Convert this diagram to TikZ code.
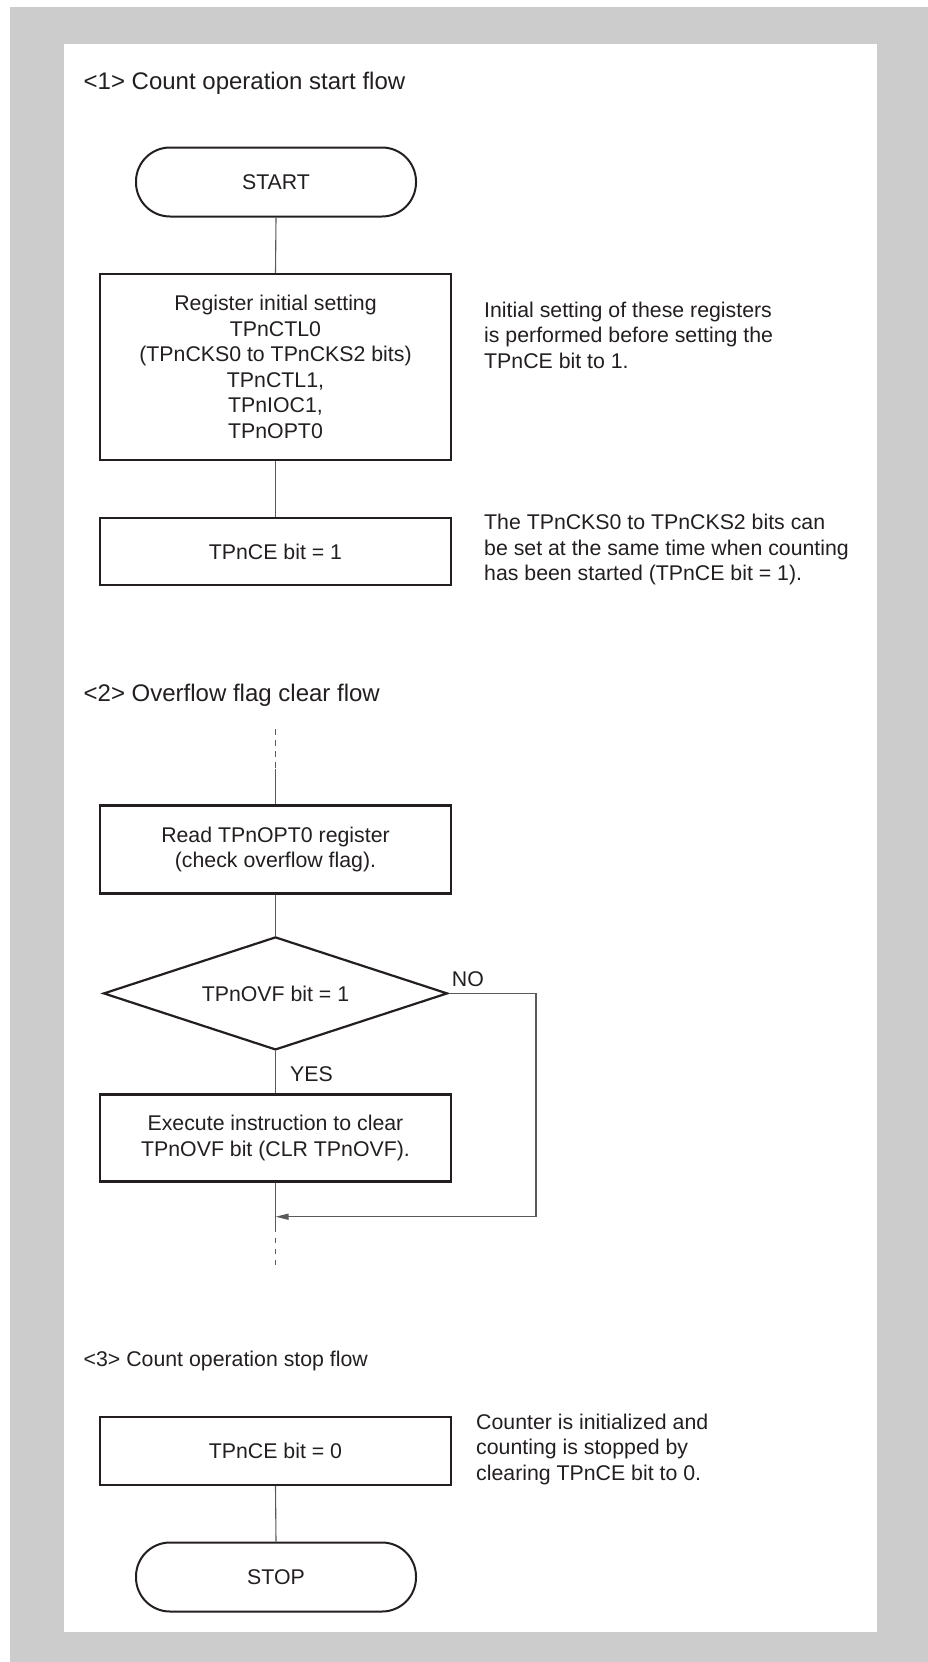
\documentclass[tikz,border=0pt]{standalone}
\usepackage{fontspec}
\setmainfont{Liberation Sans}
\usetikzlibrary{shapes.geometric,arrows.meta}
\definecolor{bggray}{HTML}{CCCCCC}
\definecolor{ink}{HTML}{231F20}
\definecolor{linegray}{HTML}{5A5A5A}
\tikzset{
  body/.style={font=\fontsize{21.3}{25.5}\selectfont, text=ink},
  titletext/.style={font=\fontsize{24}{28}\selectfont, text=ink, anchor=base west, inner sep=0pt},
  smalltitle/.style={font=\fontsize{21.3}{25.5}\selectfont, text=ink, anchor=base west, inner sep=0pt},
  procbox/.style={body, draw=ink, line width=2.2pt, minimum width=351pt, align=center, inner sep=0pt},
  termbox/.style={body, draw=ink, line width=2pt, rounded corners=34pt, minimum width=280pt, minimum height=69pt, inner sep=0pt},
  decbox/.style={body, draw=ink, line width=2.2pt, diamond, aspect=3.04, minimum width=344pt, minimum height=113pt, inner sep=0pt},
  conn/.style={draw=linegray, line width=1.1pt},
  dashconn/.style={conn, dash pattern=on 5.5pt off 5.5pt},
  note/.style={body, align=left, anchor=west, inner sep=0pt},
  lbl/.style={body, anchor=base west, inner sep=0pt},
}
\begin{document}
\begin{tikzpicture}[x=1pt,y=-1pt]
\useasboundingbox (0,0) rectangle (928,1662);
\fill[white] (0,0) rectangle (928,1662);
\fill[bggray] (10,7) rectangle (928,1662);
\fill[white] (64,44.3) rectangle (877,1632);

% Section 1
\node[titletext] (t1) at (83.5,89.6) {<1> Count operation start flow};
\node[termbox] (start) at (276,182) {START};
\node[procbox, minimum height=186pt] (reg) at (275.5,367) {Register initial setting\\TPnCTL0\\(TPnCKS0 to TPnCKS2 bits)\\TPnCTL1,\\TPnIOC1,\\TPnOPT0};
\node[procbox, minimum height=67pt] (ce1) at (275.5,551.5) {TPnCE bit = 1};
\node[note] (n1) at (484,335) {Initial setting of these registers\\is performed before setting the\\TPnCE bit to 1.};
\node[note] (n2) at (484,549.6) {The TPnCKS0 to TPnCKS2 bits can\\be set at the same time when counting\\has been started (TPnCE bit = 1).};
\draw[conn] (start.south) -- (reg.north);
\draw[conn] (reg.south) -- (ce1.north);

% Section 2
\node[titletext] (t2) at (83.5,701.6) {<2> Overflow flag clear flow};
\coordinate (in2) at (275.5,729);
\coordinate (in2b) at (275.5,769);
\node[procbox, minimum height=88pt] (read) at (275.5,849.5) {Read TPnOPT0 register\\(check overflow flag).};
\node[decbox] (dec) at (275.5,993.4) {TPnOVF bit = 1};
\node[procbox, minimum height=87pt] (exec) at (275.5,1138) {Execute instruction to clear\\TPnOVF bit (CLR TPnOVF).};
\coordinate (join) at (275.5,1216.7);
\coordinate (noright) at (536,1216.7);
\coordinate (out2a) at (275.5,1232);
\coordinate (out2b) at (275.5,1265);
\node[lbl] (no) at (451.7,986.7) {NO};
\node[lbl] (yes) at (290,1081.6) {YES};
\draw[dashconn] (in2) -- (in2b);
\draw[conn] (in2b) -- (read.north);
\draw[conn] (read.south) -- (dec.north);
\draw[conn] (dec.south) -- (exec.north);
\draw[conn] (exec.south) -- (out2a);
\draw[dashconn, dash phase=5.5pt] (out2a) -- (out2b);
\draw[conn, -{Triangle[length=13pt,width=6pt]}] (dec.east) -| (noright) -- (join);

% Section 3
\node[smalltitle] (t3) at (83.5,1366) {<3> Count operation stop flow};
\node[procbox, minimum height=68pt] (ce0) at (275.5,1451) {TPnCE bit = 0};
\node[note] (n3) at (476,1449.3) {Counter is initialized and\\counting is stopped by\\clearing TPnCE bit to 0.};
\node[termbox] (stop) at (276,1577) {STOP};
\draw[conn] (ce0.south) -- (stop.north);
\end{tikzpicture}
\end{document}
